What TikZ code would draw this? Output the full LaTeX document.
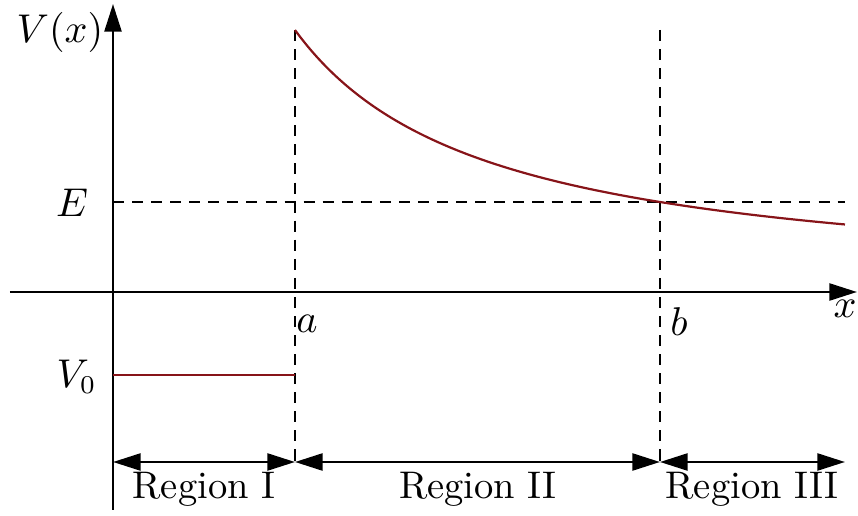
\documentclass[tikz,border=0pt]{standalone}
\usetikzlibrary{arrows.meta}
\definecolor{curvered}{RGB}{135,20,25}
\begin{document}
\begin{tikzpicture}[x=0.2727pt,y=-0.2727pt,
  axis/.style={line width=0.7pt,-{Triangle[length=7.5pt,width=4.6pt]}},
  guide/.style={line width=0.5pt,dash pattern=on 3pt off 2.2pt},
  span/.style={line width=0.7pt,{Triangle[length=7.5pt,width=4.6pt]}-{Triangle[length=7.5pt,width=4.6pt]}},
  pot/.style={curvered,line width=0.6pt},
  lbl/.style={inner sep=1pt,font=\fontsize{10.5}{12}\selectfont}]
\useasboundingbox (0,0) rectangle (858,516);
% coordinates
\coordinate (ybot) at (113,510);
\coordinate (ytop) at (113,4);
\coordinate (xl) at (10,292);
\coordinate (xr) at (857,292);
\coordinate (atop) at (295,30);
\coordinate (abot) at (295,462);
\coordinate (btop) at (660,30);
\coordinate (bbot) at (660,462);
\coordinate (e0) at (113,202);
\coordinate (e1) at (845,202);
\coordinate (v0) at (113,375);
\coordinate (v1) at (295,375);
\coordinate (r0) at (113,462);
\coordinate (r3) at (845,462);
% axes
\draw[axis] (ybot) -- (ytop);
\draw[axis] (xl) -- (xr);
% guides
\draw[guide] (atop) -- (abot);
\draw[guide] (btop) -- (bbot);
\draw[guide] (e0) -- (e1);
% potential
\draw[pot] (v0) -- (v1);
\draw[pot] plot[domain=182:732,samples=120,smooth] ({113+\x},{292-100*(500.4/(\x+9))});
% region arrows
\draw[span] (r0) -- (abot);
\draw[span] (abot) -- (bbot);
\draw[span] (bbot) -- (r3);
% labels
\node[lbl] (lV) at (60,32) {$V(x)$};
\node[lbl] (lE) at (72,203) {$E$};
\node[lbl,anchor=east] (lV0) at (101,377) {$V_0$};
\node[lbl] (la) at (307,324) {$a$};
\node[lbl] (lb) at (679,322) {$b$};
\node[lbl] (lx) at (845,309) {$x$};
\node[lbl] (r1) at (204,489) {Region I};
\node[lbl] (r2) at (478,489) {Region II};
\node[lbl] (r3l) at (752,489) {Region III};
\end{tikzpicture}
\end{document}
